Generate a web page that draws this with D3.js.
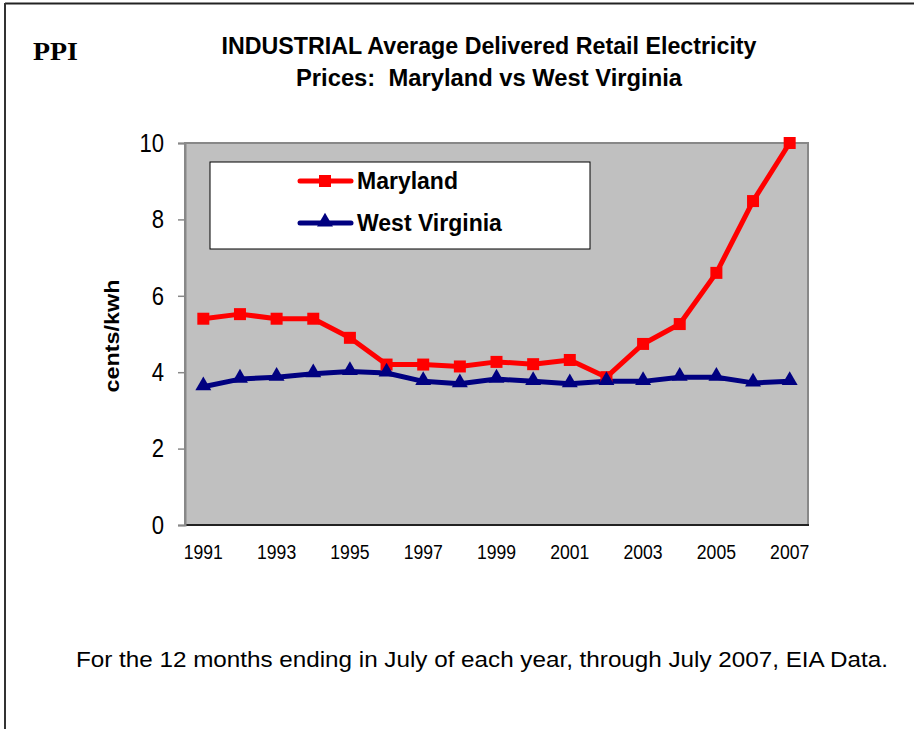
<!DOCTYPE html>
<html>
<head>
<meta charset="utf-8">
<script src="https://cdn.jsdelivr.net/npm/d3@7"></script>
<style>
  html, body { margin: 0; padding: 0; background: #fff; }
  svg { display: block; }
</style>
</head>
<body>
<svg id="chart" width="914" height="729"></svg>
<script>
const years = [1991,1992,1993,1994,1995,1996,1997,1998,1999,2000,2001,2002,2003,2004,2005,2006,2007];
const maryland = [5.4,5.52,5.4,5.4,4.9,4.2,4.2,4.15,4.27,4.21,4.32,3.87,4.74,5.26,6.6,8.48,10.0];
const westVirginia = [3.62,3.82,3.87,3.96,4.02,3.98,3.76,3.7,3.82,3.76,3.7,3.76,3.76,3.87,3.87,3.72,3.76];
const yTicks = [0,2,4,6,8,10];
const xTickLabels = ["1991","1993","1995","1997","1999","2001","2003","2005","2007"];
const seriesNames = ["Maryland","West Virginia"];
const seriesColors = ["#ff0000","#000080"];

const svg = d3.select("#chart");
const W = 914, H = 729;
const FONT = "Liberation Sans, Arial, sans-serif";

function condense(sel, k) {
  sel.each(function() {
    const w = this.getComputedTextLength();
    d3.select(this).attr("textLength", w * k).attr("lengthAdjust", "spacingAndGlyphs");
  });
}

// Outer frame (top and left lines)
svg.append("line").attr("x1",5).attr("y1",3.5).attr("x2",W).attr("y2",3.5).attr("stroke","#222").attr("stroke-width",2);
svg.append("line").attr("x1",5).attr("y1",3).attr("x2",5).attr("y2",H).attr("stroke","#333").attr("stroke-width",2);

// Plot area
const pl = 185, pr = 808, pt = 143, pb = 525;
const x = d3.scaleBand().domain(years.map(String)).range([pl, pr]).paddingInner(0).paddingOuter(0);
const y = d3.scaleLinear().domain([0,10]).range([pb, pt]);
const cx = d => x(String(d)) + x.bandwidth()/2;

svg.append("rect").attr("x",pl).attr("y",pt).attr("width",pr-pl).attr("height",pb-pt)
  .attr("fill","#c0c0c0").attr("stroke","#888").attr("stroke-width",2);
svg.append("line").attr("x1",pl).attr("x2",pr+1).attr("y1",pb).attr("y2",pb).attr("stroke","#222").attr("stroke-width",2);

// Y axis
const yAxis = d3.axisLeft(y).tickValues(yTicks).tickSize(7).tickPadding(14).tickFormat(d3.format("d"));
const gy = svg.append("g").attr("transform",`translate(${pl},0)`).call(yAxis);
gy.select(".domain").attr("stroke","#888").attr("stroke-width",2);
gy.selectAll(".tick line").attr("stroke","#888").attr("stroke-width",1.5);
gy.selectAll(".tick text").attr("font-family",FONT).attr("font-size",26).attr("fill","#000");
condense(gy.selectAll(".tick text"), 0.85);

// X axis
const xAxis = d3.axisBottom(x).tickValues(xTickLabels).tickSize(0).tickPadding(20);
const gx = svg.append("g").attr("transform",`translate(0,${pb})`).call(xAxis);
gx.select(".domain").remove();
gx.selectAll(".tick text").attr("font-family",FONT).attr("font-size",20).attr("fill","#000");
condense(gx.selectAll(".tick text"), 0.88);

// Lines
const line = d3.line().x((d,i)=>cx(years[i])).y(d=>y(d));
const data = [maryland, westVirginia];
data.forEach((vals, si) => {
  svg.append("path").datum(vals).attr("d",line).attr("fill","none")
    .attr("stroke",seriesColors[si]).attr("stroke-width",5).attr("stroke-linejoin","round");
});
// Markers
svg.append("g").selectAll("rect").data(maryland).join("rect")
  .attr("x",(d,i)=>cx(years[i])-6).attr("y",d=>y(d)-6).attr("width",12).attr("height",12).attr("fill","#ff0000");
const tri = d3.symbol().type(d3.symbolTriangle).size(110);
svg.append("g").selectAll("path").data(westVirginia).join("path")
  .attr("transform",(d,i)=>`translate(${cx(years[i])},${y(d)-1})`).attr("d",tri).attr("fill","#000080");

// Legend
const lg = svg.append("g");
lg.append("rect").attr("x",210).attr("y",162).attr("width",380).attr("height",87).attr("fill","#fff").attr("stroke","#000").attr("stroke-width",1);
const legY = [181, 223];
seriesNames.forEach((n, i) => {
  lg.append("line").attr("x1",300).attr("x2",351).attr("y1",legY[i]).attr("y2",legY[i])
    .attr("stroke",seriesColors[i]).attr("stroke-width",5).attr("stroke-linecap","round");
  if (i === 0) {
    lg.append("rect").attr("x",319).attr("y",legY[i]-6).attr("width",12).attr("height",12).attr("fill",seriesColors[i]);
  } else {
    lg.append("path").attr("transform",`translate(325,${legY[i]-1})`).attr("d",tri).attr("fill",seriesColors[i]);
  }
  lg.append("text").attr("x",357).attr("y",legY[i]).attr("dy","0.35em")
    .attr("font-family",FONT).attr("font-weight","bold").attr("font-size",23)
    .text(n);
});

// Y axis title
svg.append("text").attr("transform","translate(119,336) rotate(-90)").attr("text-anchor","middle")
  .attr("font-family",FONT).attr("font-weight","bold").attr("font-size",20)
  .attr("textLength",113).attr("lengthAdjust","spacingAndGlyphs")
  .text("cents/kwh");

// Title
const titleLines = ["INDUSTRIAL Average Delivered Retail Electricity","Prices:  Maryland vs West Virginia"];
const titleWidths = [535, 386];
svg.append("g").selectAll("text").data(titleLines).join("text")
  .attr("x",489).attr("y",(d,i)=>54 + i*32).attr("text-anchor","middle")
  .attr("font-family",FONT).attr("font-weight","bold").attr("font-size",23)
  .attr("textLength",(d,i)=>titleWidths[i]).attr("lengthAdjust","spacingAndGlyphs")
  .style("white-space","pre")
  .text(d=>d);

// PPI
svg.append("text").attr("x",33).attr("y",60).attr("font-family","Liberation Serif, Times New Roman, serif")
  .attr("font-weight","bold").attr("font-size",25).attr("textLength",45).attr("lengthAdjust","spacingAndGlyphs").text("PPI");

// Footnote
svg.append("text").attr("x",482).attr("y",667).attr("text-anchor","middle")
  .attr("font-family",FONT).attr("font-size",22)
  .attr("textLength",812).attr("lengthAdjust","spacingAndGlyphs")
  .text("For the 12 months ending in July of each year, through July 2007, EIA Data.");
</script>
</body>
</html>
